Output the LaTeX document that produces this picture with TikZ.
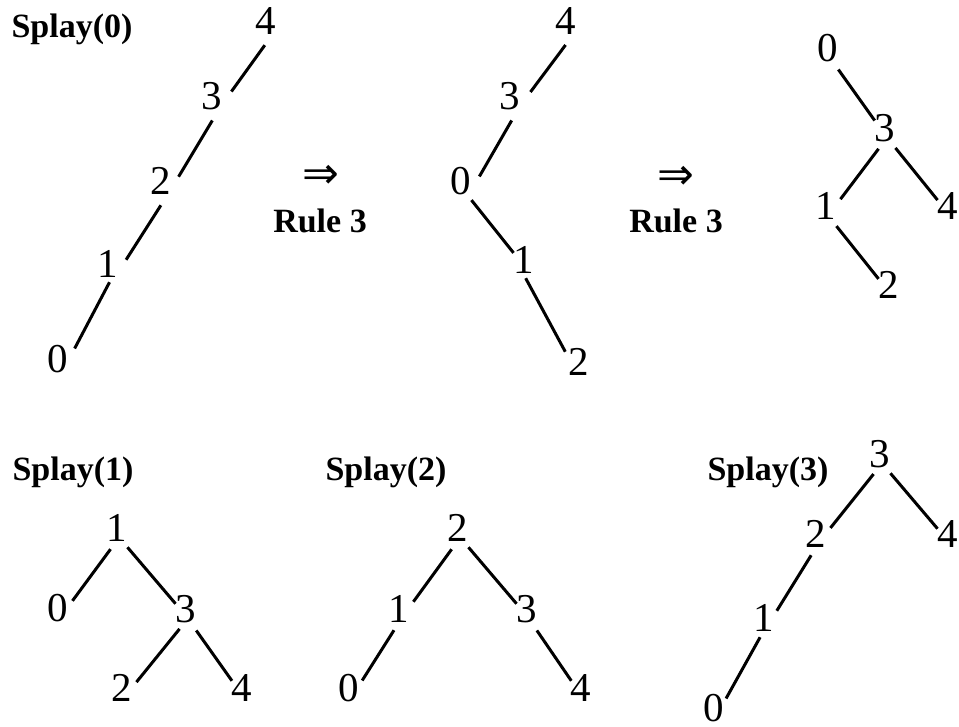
\documentclass[tikz,border=0pt]{standalone}
\usepackage{fontspec}
\setmainfont{Liberation Serif}
\newfontfamily\arrowfont{DejaVu Sans}
\begin{document}
\begin{tikzpicture}[x=1pt,y=-1pt,
  num/.style={font=\fontsize{41}{48}\selectfont, inner xsep=0pt, inner ysep=0.5pt},
  lbl/.style={font=\fontsize{34}{40}\selectfont\bfseries, inner sep=0pt},
  arr/.style={font=\arrowfont\fontsize{44}{50}\selectfont, inner sep=0pt},
  ln/.style={line width=3pt},
  sh/.style args={#1,#2}{ln, transform canvas={shift={(#1pt,#2pt)}}}]
\useasboundingbox (0,0) rectangle (959,727);
% labels
\node[lbl] (s0) at (72,29) {Splay(0)};
\node[arr] (ar1) at (321,177) {⇒};
\node[lbl] (r1) at (320,221) {Rule 3};
\node[arr] (ar2) at (676,178) {⇒};
\node[lbl] (r2) at (676,221) {Rule 3};
\node[lbl] (s1) at (73,472) {Splay(1)};
\node[lbl] (s2) at (386,472) {Splay(2)};
\node[lbl] (s3) at (768,472) {Splay(3)};
% tree A
\node[num] (a4) at (266,21) {4};
\node[num] (a3) at (212,96) {3};
\node[num] (a2) at (161,181) {2};
\node[num] (a1) at (108,264) {1};
\node[num] (a0) at (58,359) {0};
\draw[sh={9,-10}] (a4) -- (a3) (a3) -- (a2) (a2) -- (a1);
\draw[sh={9,-4}] (a1) -- (a0);
% tree B
\node[num] (b4) at (566,21) {4};
\node[num] (b3) at (510,96) {3};
\node[num] (b0) at (461,181) {0};
\node[num] (b1) at (524,260) {1};
\node[num] (b2) at (579,362) {2};
\draw[sh={10,-10}] (b4) -- (b3) (b3) -- (b0);
\draw[sh={0,-6}] (b0) -- (b1);
\draw[sh={-6,-4}] (b1) -- (b2);
% tree C
\node[num] (c0) at (828,48) {0};
\node[num] (c3) at (885,128) {3};
\node[num] (c1) at (826,206) {1};
\node[num] (c4) at (948,206) {4};
\node[num] (c2) at (889,285) {2};
\draw[sh={0,-7}] (c0) -- (c3) (c3) -- (c4) (c1) -- (c2);
\draw[sh={4,-7}] (c3) -- (c1);
% tree D
\node[num] (d1) at (117,528) {1};
\node[num] (d0) at (58,608) {0};
\node[num] (d3) at (186,609) {3};
\node[num] (d2) at (122,688) {2};
\node[num] (d4) at (242,688) {4};
\draw[sh={4,-7}] (d1) -- (d0) (d3) -- (d2);
\draw[sh={0,-7}] (d1) -- (d3) (d3) -- (d4);
% tree E
\node[num] (e2) at (458,528) {2};
\node[num] (e1) at (399,609) {1};
\node[num] (e0) at (349,688) {0};
\node[num] (e3) at (527,609) {3};
\node[num] (e4) at (581,688) {4};
\draw[sh={4,-7}] (e2) -- (e1) (e1) -- (e0);
\draw[sh={0,-7}] (e2) -- (e3) (e3) -- (e4);
% tree F
\node[num] (f3) at (880,454) {3};
\node[num] (f2) at (816,534) {2};
\node[num] (f4) at (948,534) {4};
\node[num] (f1) at (764,618) {1};
\node[num] (f0) at (714,708) {0};
\draw[sh={4,-7}] (f3) -- (f2) (f2) -- (f1);
\draw[sh={4,-5}] (f1) -- (f0);
\draw[sh={0,-7}] (f3) -- (f4);
\end{tikzpicture}
\end{document}
